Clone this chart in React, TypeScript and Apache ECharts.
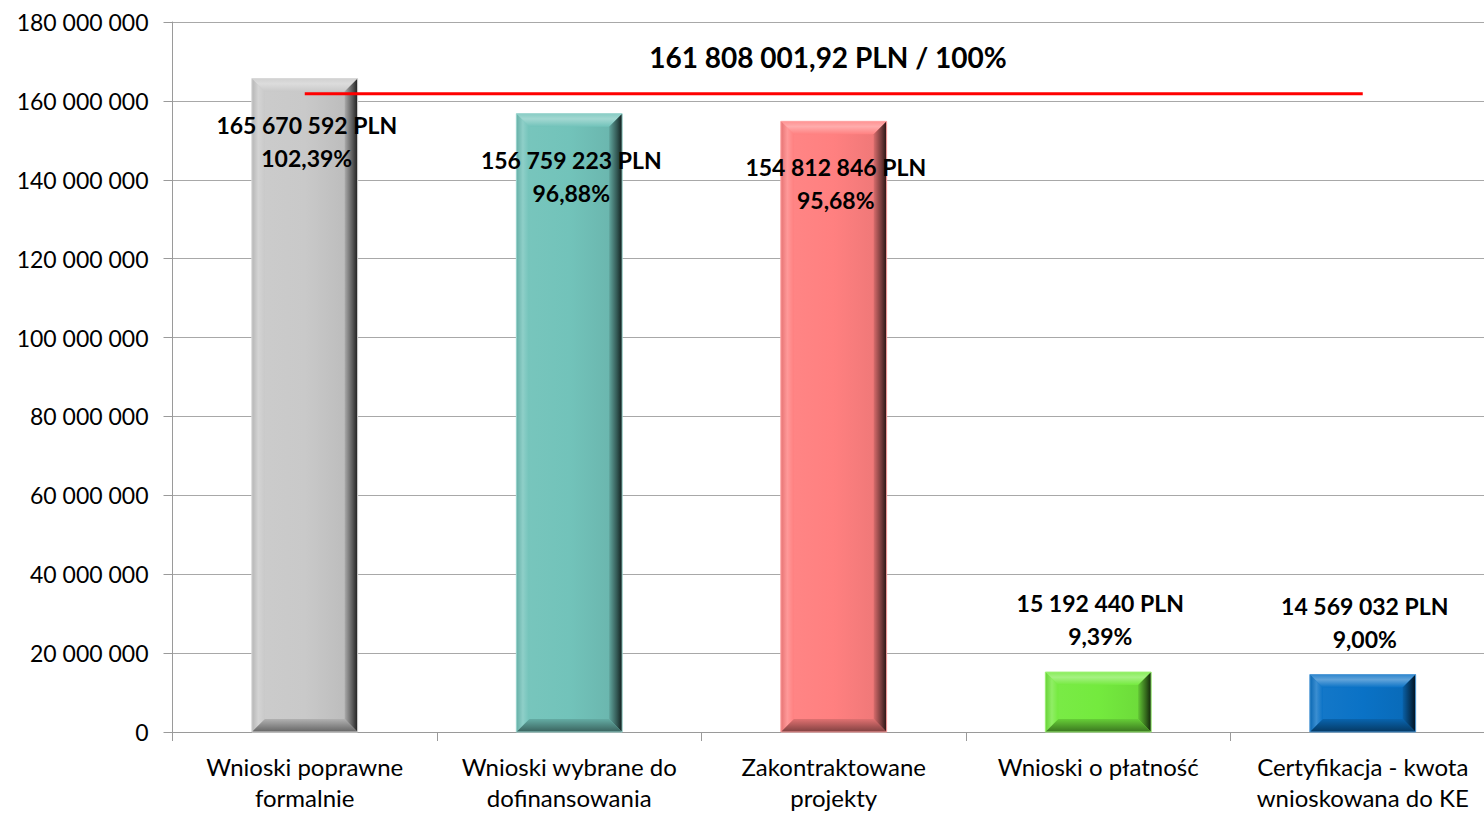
import React, { useEffect, useRef } from "react";
import * as echarts from "echarts";

const categories = [
  "Wnioski poprawne\nformalnie",
  "Wnioski wybrane do\ndofinansowania",
  "Zakontraktowane\nprojekty",
  "Wnioski o płatność",
  "Certyfikacja - kwota\nwnioskowana do KE",
];
const values = [165670592, 156759223, 154812846, 15192440, 14569032];
const target = 161808001.92;
const targetLabel = "161 808 001,92 PLN / 100%";
const barColors = ["#c9c9c9", "#72c3ba", "#ff8080", "#74ea3e", "#0a72c6"];
const yTicks = { min: 0, max: 180000000, interval: 20000000 };

const FONT = "Lato, 'Open Sans', sans-serif";

function hexToRgb(h: string) {
  const n = parseInt(h.slice(1), 16);
  return [(n >> 16) & 255, (n >> 8) & 255, n & 255];
}
function mix(h: string, other: string, t: number) {
  const a = hexToRgb(h);
  const b = hexToRgb(other);
  const c = a.map((v, i) => Math.round(v * (1 - t) + b[i] * t));
  return `rgb(${c[0]},${c[1]},${c[2]})`;
}
function fmt(n: number) {
  return String(Math.round(n)).replace(/\B(?=(\d{3})+(?!\d))/g, " ");
}
function pct(n: number) {
  return ((n / target) * 100).toFixed(2).replace(".", ",") + "%";
}

export default function App() {
  const ref = useRef<HTMLDivElement>(null);
  useEffect(() => {
    if (!ref.current) return;
    const chart = echarts.init(ref.current, undefined, { renderer: "svg" });
    const LG = echarts.graphic.LinearGradient as any;
    const renderItem = (params: any, api: any) => {
      const idx = params.dataIndex;
      const v = api.value(1);
      const topPt = api.coord([api.value(0), v]);
      const basePt = api.coord([api.value(0), 0]);
      const bw = api.size([1, 0])[0] * 0.4;
      const l = topPt[0] - bw / 2;
      const r = topPt[0] + bw / 2;
      const t = topPt[1];
      const b = basePt[1];
      const h = b - t;
      const bv = Math.min(13, h / 4);
      const c = barColors[idx];
      const face = new LG(0, 0, 1, 0, [
        { offset: 0, color: mix(c, "#ffffff", 0.05) },
        { offset: 0.5, color: c },
        { offset: 1, color: mix(c, "#000000", 0.08) },
      ]);
      const topF = new LG(0, 0, 0, 1, [
        { offset: 0, color: mix(c, "#ffffff", 0.15) },
        { offset: 0.4, color: mix(c, "#ffffff", 0.35) },
        { offset: 1, color: c },
      ]);
      const leftF = new LG(0, 0, 1, 0, [
        { offset: 0, color: mix(c, "#000000", 0.1) },
        { offset: 0.5, color: mix(c, "#ffffff", 0.2) },
        { offset: 1, color: c },
      ]);
      const rightF = new LG(0, 0, 1, 0, [
        { offset: 0, color: mix(c, "#000000", 0.15) },
        { offset: 0.6, color: mix(c, "#000000", 0.55) },
        { offset: 1, color: mix(c, "#000000", 0.85) },
      ]);
      const botF = new LG(0, 0, 0, 1, [
        { offset: 0, color: mix(c, "#000000", 0.12) },
        { offset: 1, color: mix(c, "#000000", 0.5) },
      ]);
      const children: any[] = [
        { type: "rect", shape: { x: l, y: t, width: bw, height: h }, style: { fill: face } },
        {
          type: "polygon",
          shape: { points: [[l, t], [r, t], [r - bv, t + bv], [l + bv, t + bv]] },
          style: { fill: topF },
        },
        {
          type: "polygon",
          shape: { points: [[l, t], [l + bv, t + bv], [l + bv, b - bv], [l, b]] },
          style: { fill: leftF },
        },
        {
          type: "polygon",
          shape: { points: [[r, t], [r, b], [r - bv, b - bv], [r - bv, t + bv]] },
          style: { fill: rightF },
        },
        {
          type: "polygon",
          shape: { points: [[l, b], [r, b], [r - bv, b - bv], [l + bv, b - bv]] },
          style: { fill: botF },
        },
        {
          type: "rect",
          shape: { x: l, y: t, width: bw, height: h },
          style: { fill: "none", stroke: mix(c, "#ffffff", 0.3), lineWidth: 1 },
        },
      ];
      const inside = h > 150;
      const y1 = inside ? t + 46 : t - 69;
      const y2 = inside ? t + 79 : t - 36;
      const lineStyle = {
        fill: "#000",
        font: `bold 23px ${FONT}`,
        textAlign: "center",
        textVerticalAlign: "middle",
      };
      children.push(
        { type: "text", style: { ...lineStyle, text: fmt(v) + " PLN", x: topPt[0] + 2, y: y1 } },
        { type: "text", style: { ...lineStyle, text: pct(v), x: topPt[0] + 2, y: y2 } }
      );
      return { type: "group", children };
    };
    chart.setOption({
      animation: false,
      grid: { left: 172.5, right: 0, top: 22, bottom: 76, containLabel: false },
      xAxis: {
        type: "category",
        data: categories,
        axisLine: { lineStyle: { color: "#9a9a9a", width: 1 } },
        axisTick: { show: true, length: 9, lineStyle: { color: "#9a9a9a" } },
        axisLabel: {
          color: "#000",
          fontFamily: FONT,
          fontSize: 24,
          lineHeight: 31,
          margin: 19,
          interval: 0,
        },
      },
      yAxis: {
        type: "value",
        min: yTicks.min,
        max: yTicks.max,
        interval: yTicks.interval,
        axisLine: { show: true, lineStyle: { color: "#9a9a9a" } },
        axisTick: { show: true, length: 9, lineStyle: { color: "#9a9a9a" } },
        splitLine: { lineStyle: { color: "#a8a8a8", width: 1 } },
        axisLabel: {
          color: "#000",
          fontFamily: FONT,
          fontSize: 23,
          margin: 24,
          formatter: (v: number) => fmt(v),
        },
      },
      graphic: [
        {
          type: "text",
          x: 828,
          y: 57,
          style: {
            text: targetLabel,
            fill: "#000",
            font: `bold 28px ${FONT}`,
            textAlign: "center",
            textVerticalAlign: "middle",
          },
          z: 100,
        },
      ],
      series: [
        {
          type: "custom",
          renderItem,
          data: values.map((v, i) => [i, v]),
          encode: { x: 0, y: 1 },
          z: 2,
        },
        {
          type: "line",
          data: categories.map(() => target),
          symbol: "none",
          lineStyle: { color: "#ff0000", width: 3 },
          z: 5,
        },
      ],
    });
    return () => chart.dispose();
  }, []);
  return (
    <div
      style={{
        position: "fixed",
        left: 0,
        top: 0,
        width: 1484,
        height: 813,
        overflow: "hidden",
        background: "#fff",
      }}
    >
      <div ref={ref} style={{ width: 1495, height: 813 }} />
    </div>
  );
}
